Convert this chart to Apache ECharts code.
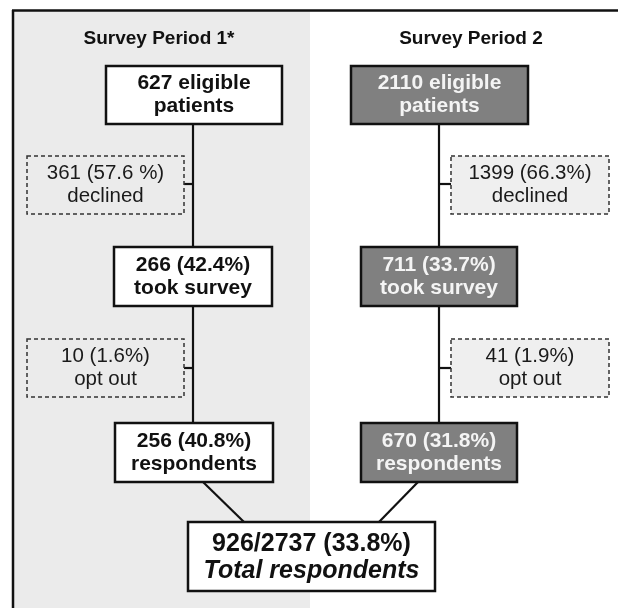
<!DOCTYPE html>
<html>
<head>
<meta charset="utf-8">
<script src="https://cdn.jsdelivr.net/npm/echarts@6/dist/echarts.min.js"></script>
<style>
html,body{margin:0;padding:0;background:#fff;}
#chart{width:618px;height:608px;}
</style>
</head>
<body>
<div id="chart"></div>
<script>
// ---- data ----
const periods = ['Survey Period 1*', 'Survey Period 2'];
const eligible = [627, 2110];
const declinedN = [361, 1399];
const declinedPct = ['57.6 %', '66.3%'];
const tookN = [266, 711];
const tookPct = ['42.4%', '33.7%'];
const optOutN = [10, 41];
const optOutPct = ['1.6%', '1.9%'];
const respN = [256, 670];
const respPct = ['40.8%', '31.8%'];
const totalResp = 926;
const totalEligible = 2737;
const totalPct = '33.8%';

// ---- layout (positions in a 618 x 608 plane) ----
const W = 618, H = 608;
const trunkX = [193, 439];
const boxX = {
  eligible: [[106, 282], [351, 528]],
  took: [[114, 272], [361, 517]],
  resp: [[115, 273], [361, 517]],
  side: [[27, 184], [451, 609]]
};
const rowY = {
  eligible: [66, 124],
  declined: [156, 214],
  took: [247, 306],
  optout: [339, 397],
  resp: [423, 482],
  total: [522, 591]
};
const totalX = [188, 435];
const FONT = '"Liberation Sans", Arial, Helvetica, sans-serif';

const nodes = [];
for (let i = 0; i < 2; i++) {
  const dark = i === 1;
  const main = {fill: dark ? '#808080' : '#ffffff', stroke: '#111', lw: 2.5, dash: null,
    color: dark ? '#f4f4f4' : '#111', size: 21, weight: 'bold', lh: 23};
  const side = {fill: i === 0 ? '#ebebeb' : '#efefef', stroke: '#333', lw: 1.5, dash: [4, 3],
    color: '#1a1a1a', size: 20.5, weight: 'normal', lh: 22.6};
  nodes.push(Object.assign({x: boxX.eligible[i], y: rowY.eligible, lines: [eligible[i] + ' eligible', 'patients']}, main));
  nodes.push(Object.assign({x: boxX.side[i], y: rowY.declined, lines: [declinedN[i] + ' (' + declinedPct[i] + ')', 'declined']}, side));
  nodes.push(Object.assign({x: boxX.took[i], y: rowY.took, lines: [tookN[i] + ' (' + tookPct[i] + ')', 'took survey']}, main));
  nodes.push(Object.assign({x: boxX.side[i], y: rowY.optout, lines: [optOutN[i] + ' (' + optOutPct[i] + ')', 'opt out']}, side));
  nodes.push(Object.assign({x: boxX.resp[i], y: rowY.resp, lines: [respN[i] + ' (' + respPct[i] + ')', 'respondents']}, main));
}
nodes.push({x: totalX, y: rowY.total, lines: [totalResp + '/' + totalEligible + ' (' + totalPct + ')', 'Total respondents'],
  styles: ['normal', 'italic'], fill: '#fff', stroke: '#111', lw: 2.5, dash: null, color: '#111', size: 25, weight: 'bold', lh: 27, dy: 1.5});

// connectors
const links = [];
for (let i = 0; i < 2; i++) {
  const x = trunkX[i];
  links.push([[x, rowY.eligible[1]], [x, rowY.took[0]]]);
  links.push([[x, rowY.took[1]], [x, rowY.resp[0]]]);
  const sx = i === 0 ? boxX.side[0][1] : boxX.side[1][0];
  links.push([[sx, 184], [x, 184]]);
  links.push([[sx, 368], [x, 368]]);
}
links.push([[203, rowY.resp[1]], [244, rowY.total[0]]]);
links.push([[418, rowY.resp[1]], [379, rowY.total[0]]]);

function renderBox(params, api) {
  const n = nodes[params.dataIndex];
  const p0 = api.coord([n.x[0], n.y[0]]);
  const p1 = api.coord([n.x[1], n.y[1]]);
  const children = [{
    type: 'rect',
    shape: {x: p0[0], y: p0[1], width: p1[0] - p0[0], height: p1[1] - p0[1]},
    style: {fill: n.fill, stroke: n.stroke, lineWidth: n.lw, lineDash: n.dash}
  }];
  const cx = (p0[0] + p1[0]) / 2, cy = (p0[1] + p1[1]) / 2 + (n.dy || 0);
  n.lines.forEach(function (t, k) {
    children.push({
      type: 'text',
      style: {
        text: t, x: cx, y: cy + (k - (n.lines.length - 1) / 2) * n.lh,
        align: 'center', verticalAlign: 'middle',
        fontSize: n.size, fontWeight: n.weight, fontStyle: n.styles ? n.styles[k] : 'normal',
        fontFamily: FONT, fill: n.color
      }
    });
  });
  return {type: 'group', children: children};
}

function renderLink(params, api) {
  const l = links[params.dataIndex];
  const a = api.coord(l[0]), b = api.coord(l[1]);
  return {type: 'line', shape: {x1: a[0], y1: a[1], x2: b[0], y2: b[1]}, style: {stroke: '#111', lineWidth: 2.2}};
}

const chart = echarts.init(document.getElementById('chart'), null, {renderer: 'canvas'});
chart.setOption({
  animation: false,
  backgroundColor: '#fff',
  grid: {left: 0, right: 0, top: 0, bottom: 0},
  xAxis: {type: 'value', min: 0, max: W, show: false},
  yAxis: {type: 'value', min: 0, max: H, inverse: true, show: false},
  graphic: [
    {type: 'rect', z: -10, shape: {x: 13, y: 11, width: 297, height: 600}, style: {fill: '#ebebeb'}},
    {type: 'line', z: 10, shape: {x1: 12, y1: 10.5, x2: 620, y2: 10.5}, style: {stroke: '#111', lineWidth: 2.5}},
    {type: 'line', z: 10, shape: {x1: 13, y1: 10, x2: 13, y2: 610}, style: {stroke: '#111', lineWidth: 2.5}},
    {type: 'text', z: 10, style: {text: periods[0], x: 159, y: 39, align: 'center', verticalAlign: 'middle',
      fontSize: 19, fontWeight: 'bold', fontFamily: FONT, fill: '#111'}},
    {type: 'text', z: 10, style: {text: periods[1], x: 471, y: 39, align: 'center', verticalAlign: 'middle',
      fontSize: 19, fontWeight: 'bold', fontFamily: FONT, fill: '#111'}}
  ],
  series: [
    {type: 'custom', renderItem: renderLink, data: links.map(function (l) { return [l[0][0], l[0][1]]; }), z: 2, silent: true},
    {type: 'custom', renderItem: renderBox, data: nodes.map(function (n) { return [(n.x[0] + n.x[1]) / 2, (n.y[0] + n.y[1]) / 2]; }), z: 3, silent: true}
  ]
});
</script>
</body>
</html>
